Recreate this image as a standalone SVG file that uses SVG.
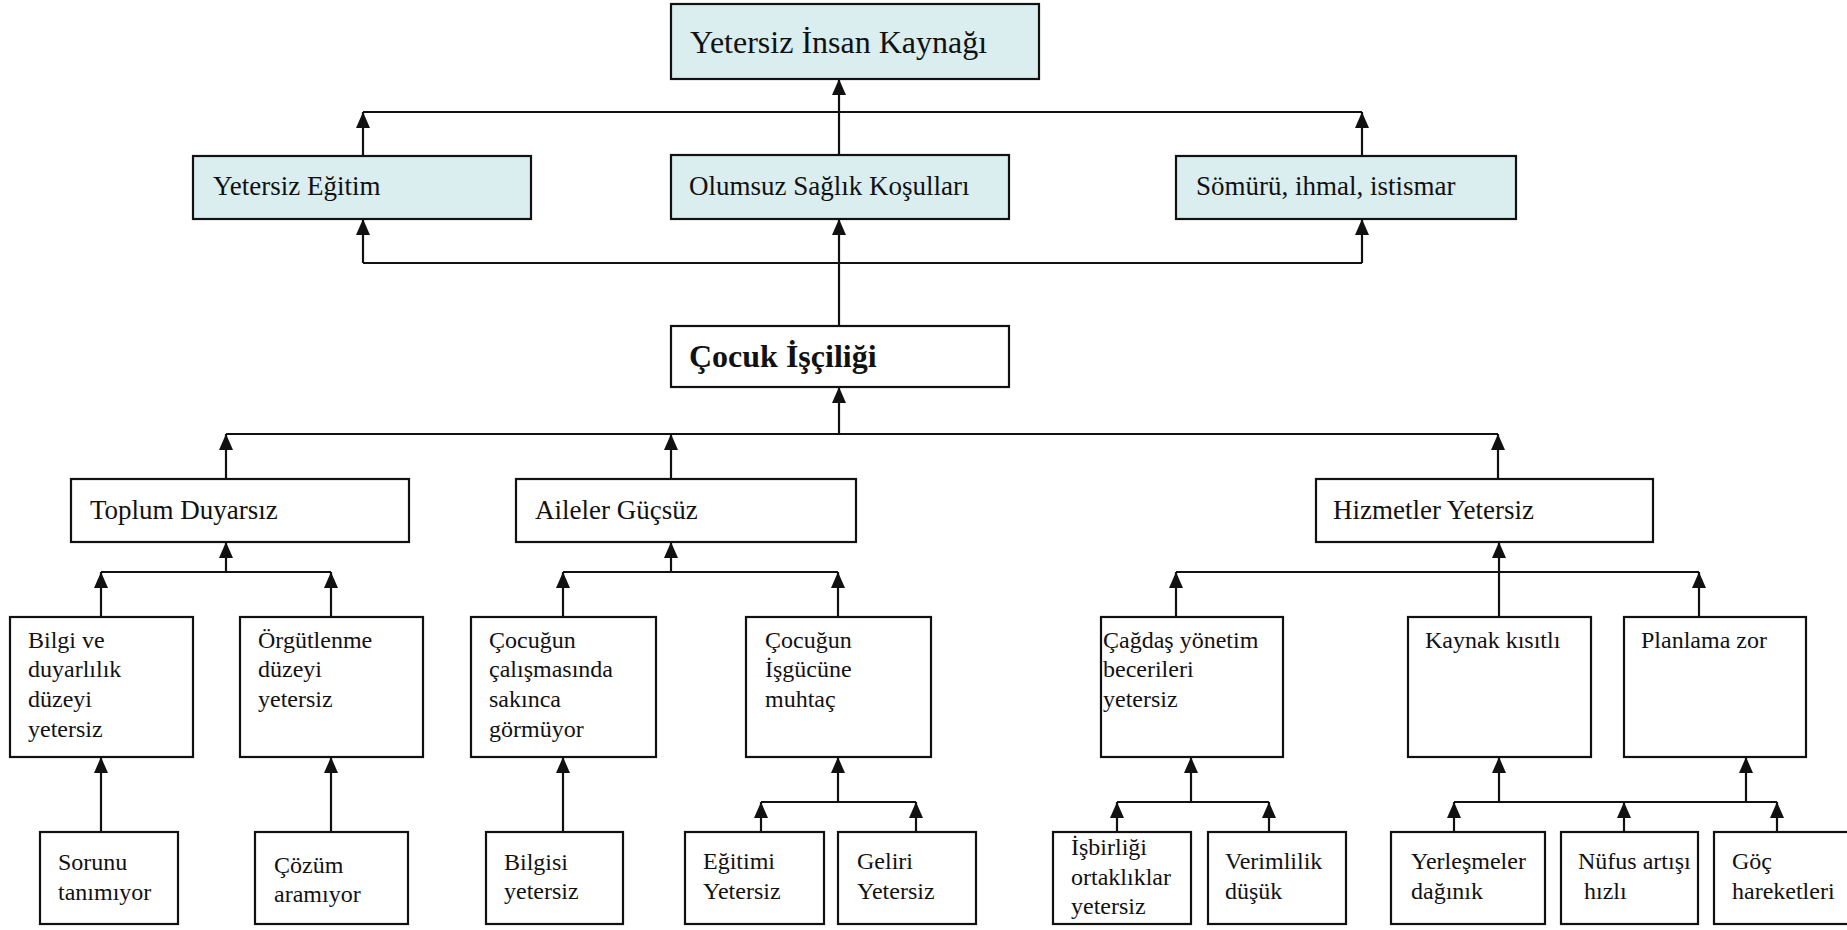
<svg xmlns="http://www.w3.org/2000/svg" width="1847" height="930" viewBox="0 0 1847 930">
<style>
.b{fill:#fff;stroke:#111;stroke-width:2.2}
.h{fill:#DAEDEF;stroke:#111;stroke-width:2.2}
.c line{stroke:#111;stroke-width:2.2}
text{font-family:"Liberation Serif","Times New Roman",serif;fill:#111}
.t1{font-size:32px}
.t2{font-size:27px}
.tb{font-size:32px;font-weight:bold}
.t3{font-size:24px}
</style>
<defs>
<marker id="ar" markerUnits="userSpaceOnUse" markerWidth="16" markerHeight="14" refX="16" refY="7" orient="auto" viewBox="0 0 16 14">
<path d="M0,0 L16,7 L0,14 z" fill="#111"/>
</marker>
</defs>
<g class="c" id="connectors">
<!-- top level -->
<line x1="839" y1="155" x2="839" y2="79" marker-end="url(#ar)"/>
<line x1="363" y1="112" x2="1362" y2="112"/>
<line x1="363" y1="156" x2="363" y2="112" marker-end="url(#ar)"/>
<line x1="1362" y1="156" x2="1362" y2="112" marker-end="url(#ar)"/>
<!-- Cocuk to middle -->
<line x1="839" y1="326" x2="839" y2="219" marker-end="url(#ar)"/>
<line x1="363" y1="263" x2="1362" y2="263"/>
<line x1="363" y1="263" x2="363" y2="219" marker-end="url(#ar)"/>
<line x1="1362" y1="263" x2="1362" y2="219" marker-end="url(#ar)"/>
<!-- level 3 to Cocuk -->
<line x1="839" y1="434" x2="839" y2="387" marker-end="url(#ar)"/>
<line x1="226" y1="434" x2="1498" y2="434"/>
<line x1="226" y1="479" x2="226" y2="434" marker-end="url(#ar)"/>
<line x1="671" y1="479" x2="671" y2="434" marker-end="url(#ar)"/>
<line x1="1498" y1="479" x2="1498" y2="434" marker-end="url(#ar)"/>
<!-- Toplum -->
<line x1="226" y1="572" x2="226" y2="542" marker-end="url(#ar)"/>
<line x1="101" y1="572" x2="331" y2="572"/>
<line x1="101" y1="617" x2="101" y2="572" marker-end="url(#ar)"/>
<line x1="331" y1="617" x2="331" y2="572" marker-end="url(#ar)"/>
<!-- Aileler -->
<line x1="671" y1="572" x2="671" y2="542" marker-end="url(#ar)"/>
<line x1="563" y1="572" x2="838" y2="572"/>
<line x1="563" y1="617" x2="563" y2="572" marker-end="url(#ar)"/>
<line x1="838" y1="617" x2="838" y2="572" marker-end="url(#ar)"/>
<!-- Hizmetler -->
<line x1="1499" y1="617" x2="1499" y2="542" marker-end="url(#ar)"/>
<line x1="1176" y1="572" x2="1699" y2="572"/>
<line x1="1176" y1="617" x2="1176" y2="572" marker-end="url(#ar)"/>
<line x1="1699" y1="617" x2="1699" y2="572" marker-end="url(#ar)"/>
<!-- single bottom links -->
<line x1="101" y1="832" x2="101" y2="757" marker-end="url(#ar)"/>
<line x1="331" y1="832" x2="331" y2="757" marker-end="url(#ar)"/>
<line x1="563" y1="832" x2="563" y2="757" marker-end="url(#ar)"/>
<!-- Isgucune -->
<line x1="838" y1="802" x2="838" y2="757" marker-end="url(#ar)"/>
<line x1="761" y1="802" x2="916" y2="802"/>
<line x1="761" y1="832" x2="761" y2="802" marker-end="url(#ar)"/>
<line x1="916" y1="832" x2="916" y2="802" marker-end="url(#ar)"/>
<!-- Cagdas -->
<line x1="1191" y1="802" x2="1191" y2="757" marker-end="url(#ar)"/>
<line x1="1117" y1="802" x2="1269" y2="802"/>
<line x1="1117" y1="832" x2="1117" y2="802" marker-end="url(#ar)"/>
<line x1="1269" y1="832" x2="1269" y2="802" marker-end="url(#ar)"/>
<!-- Kaynak / Planlama -->
<line x1="1499" y1="802" x2="1499" y2="757" marker-end="url(#ar)"/>
<line x1="1746" y1="802" x2="1746" y2="757" marker-end="url(#ar)"/>
<line x1="1454" y1="802" x2="1777" y2="802"/>
<line x1="1454" y1="832" x2="1454" y2="802" marker-end="url(#ar)"/>
<line x1="1624" y1="832" x2="1624" y2="802" marker-end="url(#ar)"/>
<line x1="1777" y1="832" x2="1777" y2="802" marker-end="url(#ar)"/>
</g>
<g id="n-insan"><rect class="h" x="671" y="4" width="368" height="75"/><text class="t1" x="690" y="53">Yetersiz İnsan Kaynağı</text></g>
<g id="n-egitim"><rect class="h" x="193" y="156" width="338" height="63"/><text class="t2" x="213" y="195">Yetersiz Eğitim</text></g>
<g id="n-saglik"><rect class="h" x="671" y="155" width="338" height="64"/><text class="t2" x="689" y="195">Olumsuz Sağlık Koşulları</text></g>
<g id="n-somuru"><rect class="h" x="1176" y="156" width="340" height="63"/><text class="t2" x="1196" y="195">Sömürü, ihmal, istismar</text></g>
<g id="n-cocuk"><rect class="b" x="671" y="326" width="338" height="61"/><text class="tb" x="689" y="367">Çocuk İşçiliği</text></g>
<g id="n-toplum"><rect class="b" x="71" y="479" width="338" height="63"/><text class="t2" x="90" y="519">Toplum Duyarsız</text></g>
<g id="n-aileler"><rect class="b" x="516" y="479" width="340" height="63"/><text class="t2" x="535" y="519">Aileler Güçsüz</text></g>
<g id="n-hizmetler"><rect class="b" x="1316" y="479" width="337" height="63"/><text class="t2" x="1333" y="519">Hizmetler Yetersiz</text></g>
<g id="n-bilgi"><rect class="b" x="10" y="617" width="183" height="140"/><text class="t3" x="28" y="648">Bilgi ve</text><text class="t3" x="28" y="677">duyarlılık</text><text class="t3" x="28" y="707">düzeyi</text><text class="t3" x="28" y="737">yetersiz</text></g>
<g id="n-orgut"><rect class="b" x="240" y="617" width="183" height="140"/><text class="t3" x="258" y="648">Örgütlenme</text><text class="t3" x="258" y="677">düzeyi</text><text class="t3" x="258" y="707">yetersiz</text></g>
<g id="n-calisma"><rect class="b" x="471" y="617" width="185" height="140"/><text class="t3" x="489" y="648">Çocuğun</text><text class="t3" x="489" y="677">çalışmasında</text><text class="t3" x="489" y="707">sakınca</text><text class="t3" x="489" y="737">görmüyor</text></g>
<g id="n-isgucu"><rect class="b" x="746" y="617" width="185" height="140"/><text class="t3" x="765" y="648">Çocuğun</text><text class="t3" x="765" y="677">İşgücüne</text><text class="t3" x="765" y="707">muhtaç</text></g>
<g id="n-cagdas"><rect class="b" x="1101" y="617" width="182" height="140"/><text class="t3" x="1103" y="648">Çağdaş yönetim</text><text class="t3" x="1103" y="677">becerileri</text><text class="t3" x="1103" y="707">yetersiz</text></g>
<g id="n-kaynak"><rect class="b" x="1408" y="617" width="183" height="140"/><text class="t3" x="1425" y="648">Kaynak kısıtlı</text></g>
<g id="n-planlama"><rect class="b" x="1624" y="617" width="182" height="140"/><text class="t3" x="1641" y="648">Planlama zor</text></g>
<g id="n-sorunu"><rect class="b" x="40" y="832" width="138" height="92"/><text class="t3" x="58" y="870">Sorunu</text><text class="t3" x="58" y="900">tanımıyor</text></g>
<g id="n-cozum"><rect class="b" x="255" y="832" width="153" height="92"/><text class="t3" x="274" y="873">Çözüm</text><text class="t3" x="274" y="902">aramıyor</text></g>
<g id="n-bilgisi"><rect class="b" x="486" y="832" width="137" height="92"/><text class="t3" x="504" y="870">Bilgisi</text><text class="t3" x="504" y="899">yetersiz</text></g>
<g id="n-egitimi"><rect class="b" x="685" y="832" width="139" height="92"/><text class="t3" x="703" y="869">Eğitimi</text><text class="t3" x="703" y="899">Yetersiz</text></g>
<g id="n-geliri"><rect class="b" x="838" y="832" width="138" height="92"/><text class="t3" x="857" y="869">Geliri</text><text class="t3" x="857" y="899">Yetersiz</text></g>
<g id="n-isbirligi"><rect class="b" x="1053" y="832" width="138" height="92"/><text class="t3" x="1071" y="855">İşbirliği</text><text class="t3" x="1071" y="885">ortaklıklar</text><text class="t3" x="1071" y="914">yetersiz</text></g>
<g id="n-verimlilik"><rect class="b" x="1208" y="832" width="138" height="92"/><text class="t3" x="1225" y="869">Verimlilik</text><text class="t3" x="1225" y="899">düşük</text></g>
<g id="n-yerlesme"><rect class="b" x="1391" y="832" width="154" height="92"/><text class="t3" x="1411" y="869">Yerleşmeler</text><text class="t3" x="1411" y="899">dağınık</text></g>
<g id="n-nufus"><rect class="b" x="1561" y="832" width="137" height="92"/><text class="t3" x="1578" y="869">Nüfus artışı</text><text class="t3" x="1584" y="899">hızlı</text></g>
<g id="n-goc"><rect class="b" x="1714" y="832" width="140" height="92"/><text class="t3" x="1732" y="869">Göç</text><text class="t3" x="1732" y="899">hareketleri</text></g>
</svg>
